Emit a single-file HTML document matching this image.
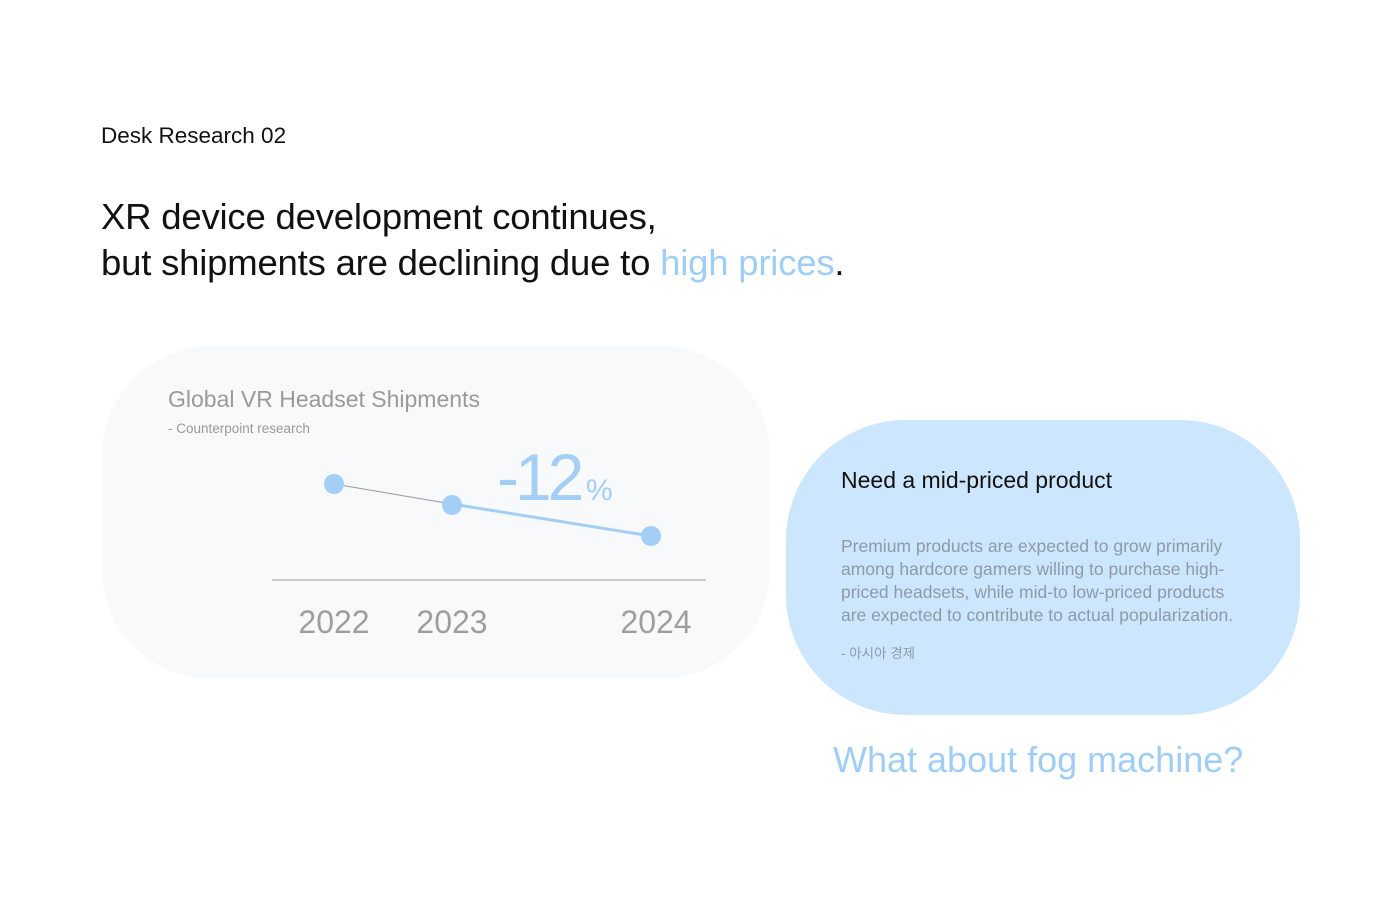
<!DOCTYPE html>
<html><head><meta charset="utf-8"><style>
body{margin:0;width:1400px;height:901px;background:#fff;position:relative;overflow:hidden;font-family:"Liberation Sans","Noto Sans CJK KR",sans-serif}
.a{position:absolute;white-space:nowrap}
</style></head><body>
<div class="a" style="left:101px;top:123px;font-size:22.5px;color:#111">Desk Research 02</div>
<div class="a" style="left:101px;top:194px;font-size:36.5px;line-height:46px;color:#111;letter-spacing:-0.2px">XR device development continues,<br>but shipments are declining due to <span style="color:#9fcdf5">high prices</span>.</div>
<div class="a" style="left:102px;top:346px;width:668px;height:333px;border-radius:110px;background:#f7f9fb"></div>
<div class="a" style="left:168px;top:386px;font-size:23px;color:#9a9a9a">Global VR Headset Shipments</div>
<div class="a" style="left:168px;top:421px;font-size:13.5px;color:#9a9a9a">- Counterpoint research</div>
<svg class="a" style="left:0;top:0" width="1400" height="901">
<line x1="334" y1="484" x2="452" y2="504" stroke="#999" stroke-width="1"/>
<line x1="452" y1="504" x2="651" y2="536" stroke="#a3cff6" stroke-width="3"/>
<circle cx="334" cy="484" r="10" fill="#a3cff6"/>
<circle cx="452" cy="505" r="10" fill="#a3cff6"/>
<circle cx="651" cy="536" r="10" fill="#a3cff6"/>
<line x1="272" y1="580" x2="706" y2="580" stroke="#bbb" stroke-width="1.5"/>
<text x="334" y="633" font-size="32" fill="#9e9e9e" text-anchor="middle" font-family="Liberation Sans">2022</text>
<text x="452" y="633" font-size="32" fill="#9e9e9e" text-anchor="middle" font-family="Liberation Sans">2023</text>
<text x="656" y="633" font-size="32" fill="#9e9e9e" text-anchor="middle" font-family="Liberation Sans">2024</text>
<text x="497" y="500" font-size="66" fill="#a3cff6" font-family="Liberation Sans" letter-spacing="-4">-12</text>
<text x="586" y="500" font-size="30" fill="#a3cff6" font-family="Liberation Sans">%</text>
</svg>
<div class="a" style="left:786px;top:420px;width:514px;height:295px;border-radius:120px;background:#cce6fd"></div>
<div class="a" style="left:841px;top:467px;font-size:23px;color:#111">Need a mid-priced product</div>
<div class="a" style="left:841px;top:535px;font-size:17.5px;line-height:23px;color:#8e9aa6">Premium products are expected to grow primarily<br>among hardcore gamers willing to purchase high-<br>priced headsets, while mid-to low-priced products<br>are expected to contribute to actual popularization.</div>
<div class="a" style="left:841px;top:642px;font-size:13.5px;color:#8e9aa6">- 아시아 경제</div>
<div class="a" style="left:833px;top:739px;font-size:36px;color:#9fcdf5">What about fog machine?</div>
</body></html>
